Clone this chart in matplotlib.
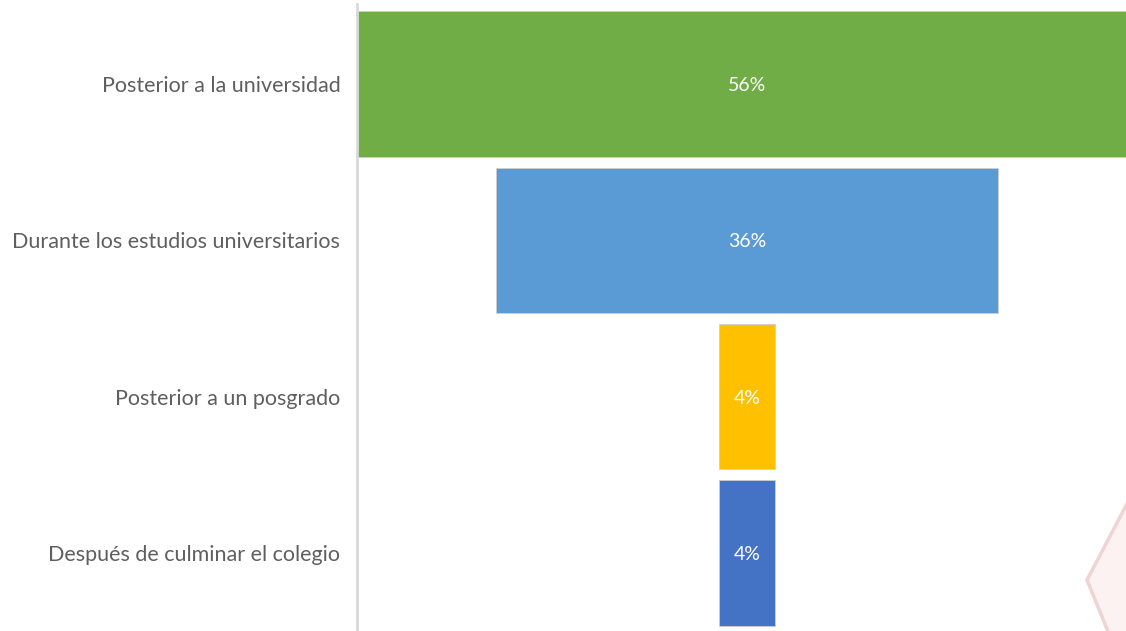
import matplotlib.pyplot as plt
from matplotlib.patches import Polygon

categories = ["Posterior a la universidad", "Durante los estudios universitarios",
              "Posterior a un posgrado", "Después de culminar el colegio"]
values = [56, 36, 4, 4]
colors = ["#70AD47", "#5B9BD5", "#FFC000", "#4472C4"]

W, H = 1126, 631
fig = plt.figure(figsize=(W / 100, H / 100), dpi=100)
ax = fig.add_axes([357 / W, 0, (W - 357) / W, (631 - 6) / H])
ax.set_facecolor("none")

ypos = list(range(len(categories)))
lefts = [-v / 2 for v in values]
ax.barh(ypos, values, left=lefts, height=0.93, color=colors,
        edgecolor="#cfcfcf", linewidth=0.6)
for y, v in zip(ypos, values):
    ax.text(0, y + 0.01, f"{v}%", ha="center", va="center", color="white",
            fontsize=14, family="Lato")

ax.set_xlim(-28, 27.2)
ax.set_ylim(3.5, -0.5)
ax.set_yticks(ypos)
ax.set_yticklabels(categories, fontsize=15.5, color="#5f5f5f", family="Lato")
ax.tick_params(axis="y", length=0, pad=12)
ax.set_xticks([])
for side in ["top", "right", "bottom"]:
    ax.spines[side].set_visible(False)
ax.spines["left"].set_color("#d9d9d9")
ax.spines["left"].set_linewidth(2)
ax.spines["left"].set_bounds(3.5, -0.51)

# decorative shape in the lower right corner
shape = Polygon([(1087 / W, 1 - 580 / H), (1130 / W, 1 - 498 / H),
                 (1130 / W, -0.02), (1113 / W, -0.02)],
                closed=True, transform=fig.transFigure,
                facecolor="#fdf2f2", edgecolor="#f0d3d3", linewidth=2.5,
                zorder=-1)
fig.patches.append(shape)

fig.savefig("out.png", dpi=100)
